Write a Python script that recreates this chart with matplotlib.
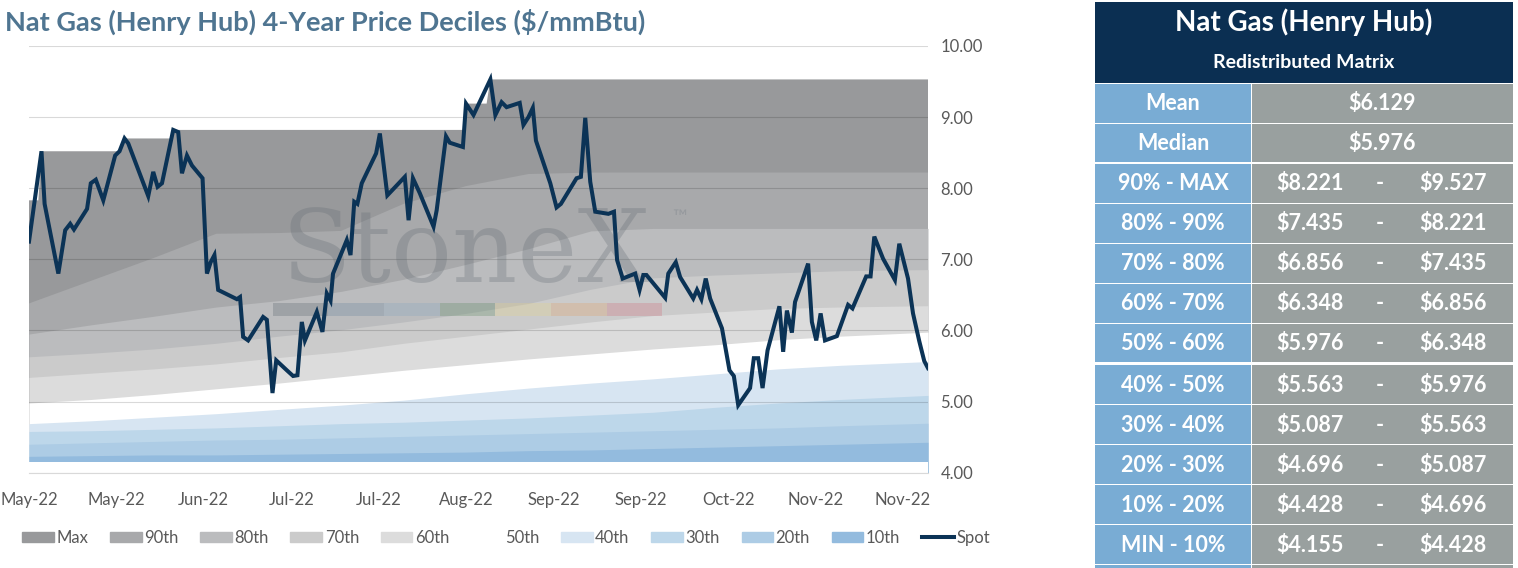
import matplotlib
matplotlib.use('Agg')
import matplotlib.pyplot as plt
from matplotlib.patches import Patch, Rectangle
from matplotlib.lines import Line2D

plt.rcParams['font.family'] = ['Lato', 'DejaVu Sans']

# --- data ---
title = 'Nat Gas (Henry Hub) 4-Year Price Deciles ($/mmBtu)'

tick_pos = [0, 14, 28, 42, 56, 70, 84, 98, 112, 126, 140]
tick_labels = ['May-22', 'May-22', 'Jun-22', 'Jul-22', 'Jul-22', 'Aug-22',
               'Sep-22', 'Sep-22', 'Oct-22', 'Nov-22', 'Nov-22']

# spot price, position in trading days from start
spot_pos = [0.0, 2.0, 2.5, 4.7, 5.8, 6.6, 7.2, 9.3, 9.9, 10.7, 11.9, 13.8, 14.5,
            15.3, 15.9, 19.1, 19.9, 20.6, 21.3, 23.1, 23.9, 24.5, 25.3, 26.1,
            27.8, 28.5, 29.1, 29.7, 30.3, 33.3, 33.8, 34.3, 35.1, 37.5, 38.1,
            39.0, 39.6, 41.3, 42.3, 43.0, 43.7, 44.2, 46.1, 47.0, 47.7, 48.3,
            48.7, 50.9, 51.5, 52.1, 52.6, 53.3, 55.6, 56.2, 57.4, 58.9, 60.2,
            60.8, 61.5, 62.6, 64.8, 65.3, 66.8, 67.4, 69.5, 70.0, 71.2, 73.9,
            74.7, 75.7, 76.5, 78.6, 79.2, 80.0, 80.7, 81.2, 83.5, 84.5, 85.2,
            87.7, 88.4, 89.1, 89.9, 90.7, 92.8, 93.7, 94.2, 95.1, 97.1, 97.8,
            98.4, 98.9, 101.9, 102.4, 103.6, 104.3, 106.4, 107.0, 107.7, 108.4,
            109.1, 111.0, 112.2, 112.9, 113.6, 115.5, 116.1, 116.8, 117.5,
            118.3, 120.2, 120.8, 121.4, 122.2, 122.7, 124.8, 125.4, 126.1,
            126.8, 127.5, 129.4, 131.2, 131.9, 134.1, 134.8, 135.4, 136.8,
            138.7, 139.4, 140.8, 141.6, 142.6, 143.4, 144.0]
spot_val = [7.25, 8.52, 7.78, 6.80, 7.41, 7.50, 7.42, 7.71, 8.07, 8.12, 7.83, 8.46, 8.52,
            8.70, 8.63, 7.89, 8.23, 8.02, 8.07, 8.82, 8.79, 8.21, 8.46, 8.32,
            8.14, 6.80, 6.96, 7.06, 6.57, 6.44, 6.47, 5.91, 5.86, 6.19, 6.15,
            5.12, 5.58, 5.44, 5.36, 5.37, 6.12, 5.86, 6.26, 5.98, 6.52, 6.42,
            6.80, 7.27, 7.06, 7.81, 7.78, 8.07, 8.49, 8.77, 7.90, 8.04, 8.16,
            7.55, 8.14, 7.93, 7.46, 7.69, 8.73, 8.64, 8.58, 9.19, 9.03, 9.53,
            9.03, 9.21, 9.14, 9.20, 8.89, 9.00, 9.13, 8.67, 8.07, 7.73, 7.78,
            8.14, 8.16, 8.99, 8.09, 7.67, 7.64, 7.67, 6.99, 6.73, 6.80, 6.57,
            6.78, 6.78, 6.46, 6.80, 6.96, 6.75, 6.45, 6.57, 6.44, 6.73,
            6.45, 6.03, 5.44, 5.36, 4.95, 5.19, 5.61, 5.61, 5.19,
            5.72, 6.34, 5.70, 6.28, 5.97, 6.40, 6.94, 6.12, 5.86,
            6.24, 5.86, 5.92, 6.36, 6.31, 6.76, 6.76, 7.32, 7.01,
            6.71, 7.22, 6.73, 6.24, 5.85, 5.57, 5.47]

# running maximum of the 4-year window
max_pos = [0, 1.5, 2.0, 14.5, 15.3, 22.7, 23.1, 69.6, 70.0, 73.3, 73.9, 144]
max_val = [7.83, 7.83, 8.52, 8.52, 8.70, 8.70, 8.82, 8.82, 9.19, 9.19, 9.53, 9.53]

# deciles
band_pos = [0, 10, 20, 30, 40, 50, 60, 70, 80, 90, 100, 110, 120, 130, 144]
p90 = [6.38, 6.70, 7.02, 7.36, 7.37, 7.40, 7.78, 8.03, 8.20, 8.22, 8.221, 8.221, 8.221, 8.221, 8.221]
p80 = [5.95, 6.08, 6.20, 6.33, 6.42, 6.55, 6.72, 6.93, 7.15, 7.40, 7.435, 7.435, 7.435, 7.435, 7.435]
p70 = [5.63, 5.68, 5.74, 5.82, 5.92, 6.01, 6.12, 6.24, 6.38, 6.58, 6.74, 6.78, 6.81, 6.84, 6.856]
p60 = [5.34, 5.40, 5.46, 5.53, 5.62, 5.70, 5.82, 5.92, 6.02, 6.12, 6.21, 6.26, 6.31, 6.33, 6.348]
p50 = [4.98, 5.03, 5.10, 5.18, 5.26, 5.35, 5.44, 5.52, 5.60, 5.67, 5.74, 5.80, 5.87, 5.92, 5.976]
p40 = [4.69, 4.73, 4.78, 4.83, 4.89, 4.95, 5.02, 5.11, 5.19, 5.26, 5.32, 5.39, 5.46, 5.51, 5.563]
p30 = [4.58, 4.59, 4.61, 4.63, 4.66, 4.69, 4.71, 4.74, 4.77, 4.81, 4.85, 4.92, 4.98, 5.03, 5.087]
p20 = [4.40, 4.42, 4.44, 4.46, 4.47, 4.49, 4.51, 4.53, 4.55, 4.57, 4.59, 4.61, 4.63, 4.66, 4.696]
p10 = [4.23, 4.24, 4.25, 4.25, 4.26, 4.27, 4.28, 4.29, 4.31, 4.32, 4.34, 4.36, 4.38, 4.40, 4.428]
p_min = [4.155, 4.155, 4.155, 4.155, 4.155, 4.155, 4.155, 4.155, 4.155, 4.155, 4.155, 4.155, 4.155, 4.155, 4.155]

band_names = ['90th', '80th', '70th', '60th', '50th', '40th', '30th', '20th', '10th']
band_vals = [p90, p80, p70, p60, p50, p40, p30, p20, p10]
band_cols = ['#a8a9ab', '#bbbcbe', '#cbcbcb', '#dcdcdc', '#ffffff',
             '#d7e5f2', '#bdd7ea', '#adcce5', '#93bbde']
max_col = '#98999b'
spot_col = '#0b3356'

# table
tbl_title = 'Nat Gas (Henry Hub)'
tbl_sub = 'Redistributed Matrix'
mean_val = '$6.129'
median_val = '$5.976'
rng_labels = ['90% - MAX', '80% - 90%', '70% - 80%', '60% - 70%', '50% - 60%',
              '40% - 50%', '30% - 40%', '20% - 30%', '10% - 20%', 'MIN - 10%']
rng_lo = ['$8.221', '$7.435', '$6.856', '$6.348', '$5.976',
          '$5.563', '$5.087', '$4.696', '$4.428', '$4.155']
rng_hi = ['$9.527', '$8.221', '$7.435', '$6.856', '$6.348',
          '$5.976', '$5.563', '$5.087', '$4.696', '$4.428']

W, H = 1518, 568
fig = plt.figure(figsize=(W / 100, H / 100), dpi=100)

# --- chart ---
ax = fig.add_axes([29 / W, 95.3 / H, 899 / W, 426.7 / H])
ax.fill_between(max_pos, 0, max_val, color=max_col, lw=0, zorder=1)
for vals, col in zip(band_vals, band_cols):
    ax.fill_between(band_pos, 0, vals, color=col, lw=0, zorder=1)
ax.fill_between(band_pos, 0, p_min, color='white', lw=0, zorder=1)

# watermark
ax.text(0.486, 0.447, 'StoneX', transform=ax.transAxes, ha='center', va='baseline',
        fontsize=73, family='DejaVu Serif', color='#5f6870', alpha=0.28, zorder=3)
ax.text(0.723, 0.597, '\u2122', transform=ax.transAxes, ha='center', va='center',
        fontsize=14, color='#8a8f95', alpha=0.6, zorder=3)
strip_cols = ['#5b6670', '#6a859e', '#86a6c0', '#5e8a64', '#e3d28a', '#e0a06a', '#d0707e']
for i, c in enumerate(strip_cols):
    ax.add_patch(Rectangle((0.271 + i * 0.0619, 0.367), 0.0619, 0.031, transform=ax.transAxes,
                           color=c, alpha=0.3, lw=0, zorder=3))

ax.plot(spot_pos, spot_val, color=spot_col, lw=2.9, zorder=5, solid_joinstyle='miter')

ax.set_xlim(0, 144)
ax.set_ylim(4, 10)
ax.set_axisbelow(False)
ax.yaxis.grid(True, color='black', alpha=0.15, lw=0.8)
ax.xaxis.grid(False)
ax.yaxis.tick_right()
ax.set_yticks([4, 5, 6, 7, 8, 9, 10])
ax.set_yticklabels(['%.2f' % v for v in [4, 5, 6, 7, 8, 9, 10]])
ax.set_xticks(tick_pos)
ax.set_xticklabels(tick_labels)
ax.tick_params(length=0, labelsize=12, labelcolor='#595959')
ax.tick_params(axis='y', pad=9)
ax.tick_params(axis='x', pad=14)
for name, s in ax.spines.items():
    s.set_visible(name == 'bottom')
ax.spines['bottom'].set_color('#d9d9d9')
ax.spines['bottom'].set_linewidth(0.8)

fig.text(5 / W, 1 - 22 / H, title, ha='left', va='center', fontsize=19.5,
         weight='bold', color='#4f7591')

handles = [Patch(color=max_col)] + [Patch(color=c) for c in band_cols] + \
          [Line2D([0], [0], color=spot_col, lw=2.9)]
labels = ['Max'] + band_names + ['Spot']
fig.legend(handles, labels, ncol=11, loc='center left', bbox_to_anchor=(14 / W, 1 - 538 / H),
           frameon=False, fontsize=12, handlelength=1.9, handleheight=0.6,
           handletextpad=0.15, columnspacing=1.3, labelcolor='#595959', borderpad=0)

# --- table ---
tx = fig.add_axes([1095 / W, 0, 418 / W, 1])
tx.set_xlim(0, 418)
tx.set_ylim(H, 0)
tx.axis('off')
navy = '#0b2f52'
blue = '#79acd4'
grey = '#99a09f'
tx.add_patch(Rectangle((0, 2), 418, 81, color=navy, lw=0))
tx.text(209, 22, tbl_title, ha='center', va='center', color='white', fontsize=20, weight='bold')
tx.text(209, 62, tbl_sub, ha='center', va='center', color='white', fontsize=14, weight='bold')

rows = [('Mean', mean_val, None)] + [('Median', median_val, None)] + \
       list(zip(rng_labels, rng_lo, rng_hi))
for i, (lab, lo, hi) in enumerate(rows):
    top = 84 + 40 * i + (1 if i >= 7 else 0)
    h = 38 if i in (1, 6) else 39
    tx.add_patch(Rectangle((0, top), 156, h, color=blue, lw=0))
    tx.add_patch(Rectangle((157, top), 261, h, color=grey, lw=0))
    yc = top + 20
    tx.text(78, yc, lab, ha='center', va='center', color='white', fontsize=15.5, weight='bold')
    if hi is None:
        tx.text(287, yc, lo, ha='center', va='center', color='white', fontsize=15.5, weight='bold')
    else:
        tx.text(215, yc, lo, ha='center', va='center', color='white', fontsize=15.5, weight='bold')
        tx.text(285, yc, '-', ha='center', va='center', color='white', fontsize=15.5, weight='bold')
        tx.text(358, yc, hi, ha='center', va='center', color='white', fontsize=15.5, weight='bold')
# partially visible next row
last = 84 + 40 * len(rows) + 1
tx.add_patch(Rectangle((0, last), 156, H - last, color=blue, lw=0))
tx.add_patch(Rectangle((157, last), 261, H - last, color=grey, lw=0))

fig.savefig('out.png', dpi=100)
